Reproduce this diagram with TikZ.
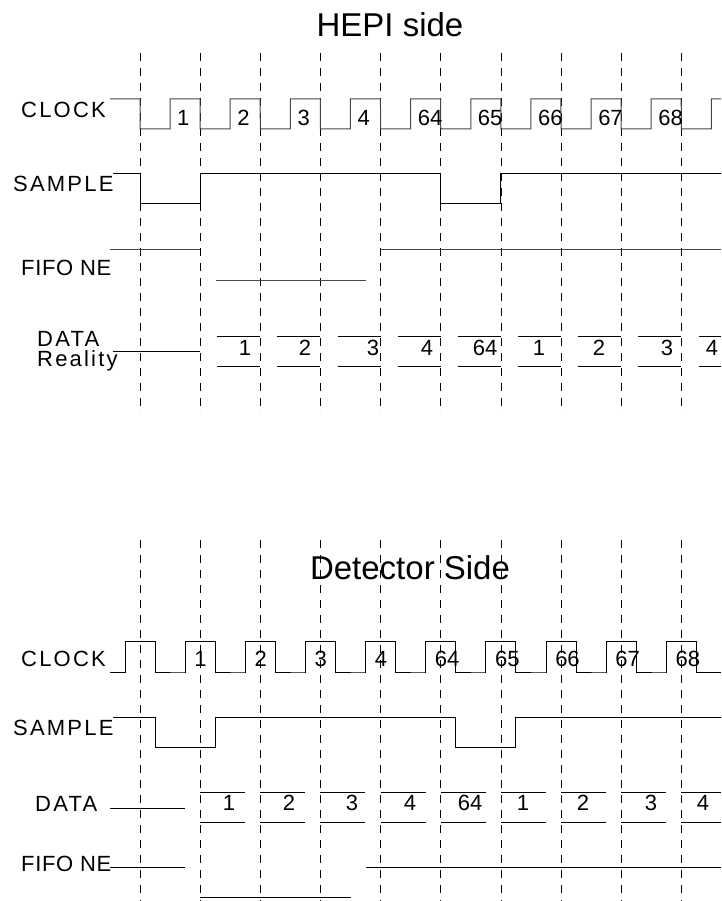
\documentclass[tikz,border=0pt]{standalone}
\usepackage{fontspec}
\setmainfont{Liberation Sans}
\begin{document}
\begin{tikzpicture}[x=1pt,y=-1pt,
  sig/.style={line width=1pt, black},
  sigg/.style={line width=1pt, black!72},
  gridline/.style={line width=0.8pt, black, dash pattern=on 8pt off 7pt},
  lbl/.style={inner sep=0pt, anchor=base west, font=\fontsize{22}{22}\selectfont\addfontfeature{LetterSpace=10}},
  lbln/.style={inner sep=0pt, anchor=base west, font=\fontsize{22}{22}\selectfont\addfontfeature{LetterSpace=3}},
  num/.style={inner sep=0pt, font=\fontsize{22}{22}\selectfont},
  ttl/.style={inner sep=0pt, anchor=base, font=\fontsize{33}{33}\selectfont}]
\useasboundingbox (0,0) rectangle (721,901);
\def\P{60.15}
% dashed time grid
\foreach \k in {0,...,9} {
  \draw[gridline] ({140+\P*\k},53) -- ({140+\P*\k},413);
  \draw[gridline] ({140+\P*\k},540) -- ({140+\P*\k},901);
}
% titles
\node[ttl] (t1) at (390,37) {HEPI side};
\node[ttl] (t2) at (410,579) {Detector Side};

% ---------- HEPI side ----------
\node[lbl] (hclk) at (21,117.3) {CLOCK};
\node[lbl] (hsmp) at (13,191.7) {SAMPLE};
\node[lbln] (hfifo) at (21,275) {FIFO NE};
\node[lbl] (hdata) at (37,346.7) {DATA};
\node[lbl] (hreal) at (37,366.7) {Reality};

\draw[sigg] (110,99) -- (140,99)
  foreach \k in {0,...,9} { -- ({140+\P*\k},129) -- ({170+\P*\k},129) -- ({170+\P*\k},99) -- ({min(200+\P*\k,721)},99) };
\foreach \t [count=\i from 0] in {1,2,3,4,64,65,66,67,68}
  \node[num, anchor=west] (hc\i) at ({177+\P*\i},118) {\t};

\draw[sig] (113,174) -- (140,174) -- (140,204) -- (200.15,204) -- (200.15,174) -- (440.75,174) -- (440.75,204) -- (500.9,204) -- (500.9,174) -- (721,174);

\draw[sigg] (110,249) -- (200.15,249);
\draw[sigg] (216,280) -- (366,280);
\draw[sigg] (381,249) -- (721,249);

\draw[sig] (113,351) -- (200.15,351);
\foreach \k in {2,...,10} {
  \draw[sig] ({140+\P*\k-43},336) -- ({min(140+\P*\k,721)},336);
  \draw[sig] ({140+\P*\k-43},366) -- ({min(140+\P*\k,721)},366);
}
\foreach \x/\t [count=\i] in {245/1,305/2,373/3,427/4,485/64,539/1,599/2,667/3,712/4}
  \node[num] (hd\i) at (\x,348) {\t};

% ---------- Detector side ----------
\node[lbl] (dclk) at (21,666.7) {CLOCK};
\node[lbl] (dsmp) at (13,735) {SAMPLE};
\node[lbl] (ddata) at (35,811) {DATA};
\node[lbln] (dfifo) at (21,871) {FIFO NE};

\draw[sig] (110,672) -- (125,672)
  foreach \k in {0,...,9} { -- ({125+\P*\k},672) -- ({125+\P*\k},641) -- ({155+\P*\k},641) -- ({155+\P*\k},672) -- ({min(185+\P*\k,721)},672) };
\foreach \t [count=\i] in {1,2,3,4,64,65,66,67,68}
  \node[num, anchor=west] (dc\i) at ({134+\P*\i},659) {\t};

\draw[sig] (113,717) -- (155,717) -- (155,747) -- (215.15,747) -- (215.15,717) -- (455.75,717) -- (455.75,747) -- (515.9,747) -- (515.9,717) -- (721,717);

\draw[sig] (110,808) -- (185,808);
\foreach \k in {1,...,9} {
  \draw[sig] ({140+\P*\k},792) -- ({min(140+\P*\k+45,721)},792);
  \draw[sig] ({140+\P*\k},822) -- ({min(140+\P*\k+45,721)},822);
}
\foreach \x/\t [count=\i] in {229/1,289/2,352/3,410/4,470/64,523/1,583/2,651/3,703/4}
  \node[num] (dd\i) at (\x,803) {\t};

\draw[sig] (110,867) -- (185,867);
\draw[sig] (200.15,897) -- (351,897);
\draw[sig] (366,867) -- (721,867);
\end{tikzpicture}
\end{document}
